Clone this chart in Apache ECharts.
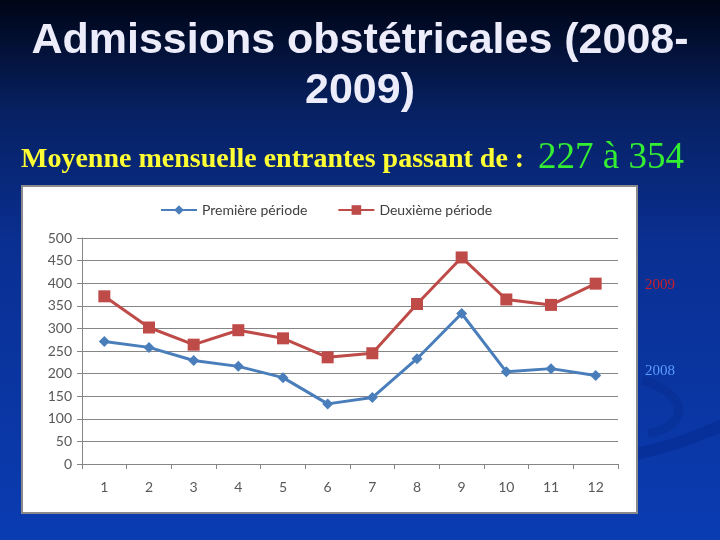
<!DOCTYPE html>
<html>
<head>
<meta charset="utf-8">
<script src="https://cdn.jsdelivr.net/npm/echarts@6/dist/echarts.min.js"></script>
<style>
html,body{margin:0;padding:0;background:#02082a;}
#c{width:720px;height:540px;}
</style>
</head>
<body>
<div id="c"></div>
<script>
var categories = ['1','2','3','4','5','6','7','8','9','10','11','12'];
var premiere = [271, 258, 229, 216, 191, 133, 147, 233, 333, 204, 211, 196];
var deuxieme = [371, 302, 264, 296, 278, 236, 245, 354, 457, 364, 352, 399];
var seriesNames = ['Première période', 'Deuxième période'];
var yTicks = {min: 0, max: 500, interval: 50};

var chart = echarts.init(document.getElementById('c'), null, {renderer: 'canvas'});
var labelFont = 'Lato, "Open Sans", sans-serif';
chart.setOption({
  backgroundColor: {
    type: 'linear', x: 0, y: 0, x2: 0, y2: 1,
    colorStops: [
      {offset: 0, color: '#000516'},
      {offset: 0.2, color: '#062060'},
      {offset: 0.45, color: '#0a2f92'},
      {offset: 1, color: '#0a3cb2'}
    ]
  },
  graphic: [
    {type: 'bezierCurve', silent: true, z: 0,
     shape: {x1: 636, y1: 454, cpx1: 680, cpy1: 445, cpx2: 705, cpy2: 432, x2: 740, y2: 418},
     style: {stroke: 'rgba(0,25,110,0.22)', lineWidth: 12, fill: null}},
    {type: 'bezierCurve', silent: true, z: 0,
     shape: {x1: 642, y1: 380, cpx1: 690, cpy1: 395, cpx2: 690, cpy2: 425, x2: 648, y2: 434},
     style: {stroke: 'rgba(0,25,110,0.18)', lineWidth: 9, fill: null}},
    {type: 'rect', silent: true, z: 0,
     shape: {x: 22, y: 186, width: 615, height: 327},
     style: {fill: '#ffffff', stroke: '#8a8a8a', lineWidth: 2}},
    {type: 'text', silent: true, z: 10, left: 'center', top: 16,
     style: {text: 'Admissions obstétricales (2008-\n2009)', font: 'bold 43px "Liberation Sans", Arial, sans-serif',
             fill: '#ececfa', textAlign: 'center', lineHeight: 50,
             shadowColor: 'rgba(0,0,0,0.7)', shadowBlur: 2, shadowOffsetX: 2, shadowOffsetY: 2}},
    {type: 'text', silent: true, z: 10, left: 21, top: 146,
     style: {text: 'Moyenne mensuelle entrantes passant de :', font: 'bold 28px "Liberation Serif", "Times New Roman", serif',
             fill: '#ffff33', shadowColor: 'rgba(0,0,0,0.8)', shadowBlur: 1, shadowOffsetX: 1, shadowOffsetY: 1}},
    {type: 'text', silent: true, z: 10, left: 538, top: 140,
     style: {text: '227 à 354', font: '37px "Liberation Serif", "Times New Roman", serif',
             fill: '#33ee33', shadowColor: 'rgba(0,0,0,0.8)', shadowBlur: 1, shadowOffsetX: 1, shadowOffsetY: 1}},
    {type: 'text', silent: true, z: 10, left: 645, top: 278,
     style: {text: '2009', font: '15px "Liberation Serif", "Times New Roman", serif', fill: '#c8202a'}},
    {type: 'text', silent: true, z: 10, left: 645, top: 364,
     style: {text: '2008', font: '15px "Liberation Serif", "Times New Roman", serif', fill: '#5b9bff'}}
  ],
  legend: {
    top: 198, left: 155,
    itemWidth: 36, itemHeight: 12, itemGap: 30,
    textStyle: {fontFamily: labelFont, fontSize: 14, color: '#404040'},
    data: seriesNames
  },
  grid: {left: 82, right: 102, top: 238, bottom: 76, containLabel: false},
  xAxis: {
    type: 'category', data: categories, boundaryGap: true,
    axisLine: {lineStyle: {color: '#868686', width: 1}},
    axisTick: {show: true, length: 5, alignWithLabel: false, lineStyle: {color: '#868686'}},
    axisLabel: {margin: 16, fontFamily: labelFont, fontSize: 14, color: '#595959'}
  },
  yAxis: {
    type: 'value', min: yTicks.min, max: yTicks.max, interval: yTicks.interval,
    axisLine: {show: true, lineStyle: {color: '#868686', width: 1}},
    axisTick: {show: true, length: 5, lineStyle: {color: '#868686'}},
    splitLine: {show: true, lineStyle: {color: '#868686', width: 1}},
    axisLabel: {margin: 10, fontFamily: labelFont, fontSize: 14, color: '#595959'}
  },
  series: [
    {name: seriesNames[0], type: 'line', data: premiere, symbol: 'diamond', symbolSize: 11,
     lineStyle: {color: '#4a7ebb', width: 3}, itemStyle: {color: '#4a7ebb'}, z: 3},
    {name: seriesNames[1], type: 'line', data: deuxieme, symbol: 'rect', symbolSize: 12,
     lineStyle: {color: '#be4b48', width: 3}, itemStyle: {color: '#be4b48'}, z: 4}
  ]
});
</script>
</body>
</html>
